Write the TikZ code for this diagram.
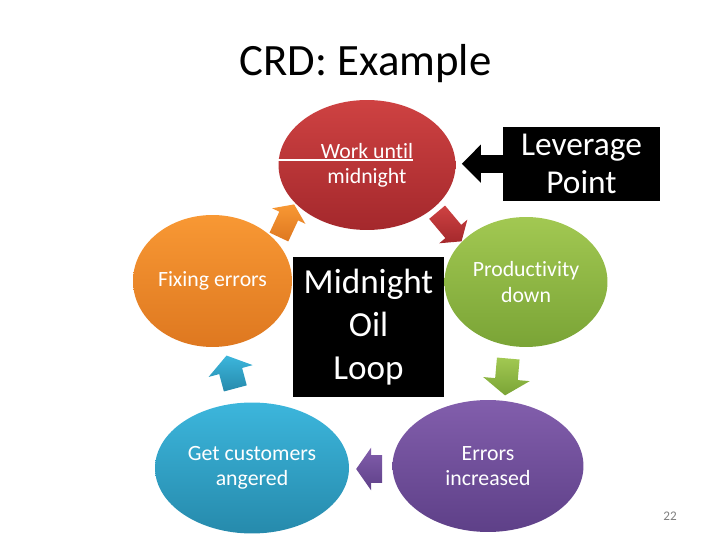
\documentclass[tikz,border=0pt]{standalone}
\usepackage{fontspec}
\setmainfont{Carlito}[Ligatures=NoCommon]
\usepackage{tikz}
\usetikzlibrary{shapes.geometric,shapes.arrows,arrows.meta,positioning,calc}
\usepackage{xcolor}
\definecolor{redtop}{RGB}{206,66,66}
\definecolor{redbot}{RGB}{164,40,44}
\definecolor{orgtop}{RGB}{248,152,52}
\definecolor{orgbot}{RGB}{222,120,32}
\definecolor{grntop}{RGB}{162,200,82}
\definecolor{grnbot}{RGB}{122,164,54}
\definecolor{blutop}{RGB}{60,182,220}
\definecolor{blubot}{RGB}{38,138,172}
\definecolor{purtop}{RGB}{130,94,172}
\definecolor{purbot}{RGB}{94,64,136}

\begin{document}
\begin{tikzpicture}[x=0.02cm,y=-0.02cm,
  oval/.style={ellipse,inner sep=0pt,align=center,text=white,
               font=\fontsize{12.4}{14.4}\selectfont},
  blk/.style={rectangle,fill=black,text=white,align=center,inner sep=0pt},
  cyc/.style={single arrow,inner xsep=0pt,single arrow tip angle=110}
]
\useasboundingbox (0,0) rectangle (720,540);

\node[anchor=base,font=\fontsize{25.5}{30}\selectfont] (title) at (365.5,76) {CRD: Example};

% the loop
\node[oval,minimum width=3.54cm,minimum height=2.6cm,top color=redtop,bottom color=redbot] (work) at (367,165) {Work until\\midnight};
\node[oval,minimum width=3.26cm,minimum height=2.6cm,top color=grntop,bottom color=grnbot] (prod) at (526,282) {Productivity\\down};
\node[oval,minimum width=3.82cm,minimum height=2.64cm,top color=purtop,bottom color=purbot] (err) at (488,466) {Errors\\increased};
\node[oval,minimum width=3.88cm,minimum height=2.62cm,top color=blutop,bottom color=blubot] (cust) at (252,468) {Get customers\\angered};
\node[oval,minimum width=3.18cm,minimum height=2.64cm,top color=orgtop,bottom color=orgbot] (fix) at (212.5,281) {Fixing errors};

\coordinate (ul) at (413,160);
\draw[white,line width=0.6pt] (work.west |- ul) -- (ul);

% small arrows between the steps
\node[cyc,minimum height=0.72cm,inner ysep=0.2cm,single arrow head extend=0.16cm,rotate=65,top color=orgtop,bottom color=orgbot] (a1) at (285,224) {};
\node[cyc,minimum height=0.76cm,inner ysep=0.2cm,single arrow head extend=0.16cm,rotate=-50,top color=redtop,bottom color=redbot] (a2) at (447,224) {};
\node[cyc,minimum height=0.74cm,inner ysep=0.22cm,single arrow head extend=0.24cm,rotate=-95,top color=grntop,bottom color=grnbot] (a3) at (507,373) {};
\node[cyc,minimum height=0.52cm,inner ysep=0.27cm,single arrow head extend=0.15cm,rotate=180,top color=purtop,bottom color=purbot] (a4) at (374,469) {};
\node[cyc,minimum height=0.68cm,inner ysep=0.23cm,single arrow head extend=0.22cm,rotate=105,top color=blutop,bottom color=blubot] (a5) at (232,376) {};

% labels
\node[blk,minimum width=3.02cm,minimum height=2.8cm,font=\fontsize{20}{24.4}\selectfont] (loop) at (368.5,327) {Midnight\\Oil\\Loop};
\node[blk,minimum width=3.14cm,minimum height=1.48cm,font=\fontsize{19}{21.5}\selectfont] (lev) at (581.5,163.7) {Leverage\\Point};

\coordinate (levtip) at ($(work.east)+(6,0)$);
\draw[line width=0.36cm,-{Triangle[length=0.38cm,width=0.74cm]}] (lev.west) -- (lev.west -| levtip);

\node[font=\fontsize{7.5}{9}\selectfont,text=gray] (pg) at (670,516) {22};
\end{tikzpicture}
\end{document}
